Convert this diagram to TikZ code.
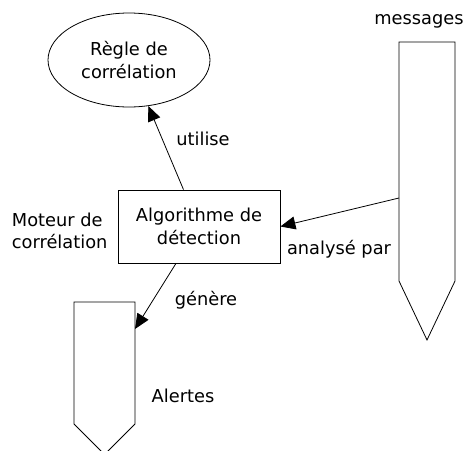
\documentclass[tikz,border=0pt]{standalone}
\usepackage{fontspec}
\setmainfont{DejaVu Sans}
\usetikzlibrary{arrows.meta,shapes.geometric,shapes.symbols}

\tikzset{
    flux/.style = {draw=black, line width=0.8pt, shape=signal, signal from=nowhere, signal to=south, inner sep=0pt},
    bloc/.style = {draw=black, line width=0.8pt, align=center, inner sep=0pt},
    lien/.style = {draw=black, line width=0.8pt, -{Triangle[length=15pt,width=13pt]}},
    etiq/.style = {anchor=base, inner sep=0pt},
}

\begin{document}
\begin{tikzpicture}[x=1pt,y=-1pt,font={\fontsize{17.8}{22.3}\selectfont}]
    \useasboundingbox (0,0) rectangle (465,450);

    % regle et moteur
    \node[bloc, ellipse, minimum width=162pt, minimum height=94pt] (regle) at (129,60) {Règle de\\corrélation};
    \node[bloc, minimum width=162pt, minimum height=73pt] (algo) at (199,226.5) {Algorithme de\\détection};
    \node[align=left, anchor=west, inner sep=0pt] (moteur) at (11.7,231) {Moteur de\\corrélation};

    % flux de messages et d'alertes
    \node[flux, minimum width=56pt, minimum height=239pt, signal pointer angle=50.8] (messages) at (427,161.5) {};
    \node[etiq] (msgtxt) at (419,24.3) {messages};
    \coordinate (msgout) at (399,198);

    \node[flux, minimum width=61pt, minimum height=122pt, signal pointer angle=90] (alertes) at (104.5,363) {};
    \node[etiq] (alertxt) at (183,402.7) {Alertes};
    \coordinate (alertin) at (135,329);

    % liens
    \draw[lien] (algo) -- (regle);
    \draw[lien] (msgout) -- (algo.east);
    \draw[lien] (algo) -- (alertin);

    \node[etiq] (utilise) at (203,145.7) {utilise};
    \node[etiq] (analyse) at (339,254) {analysé par};
    \node[etiq] (genere) at (206,305.7) {génère};
\end{tikzpicture}
\end{document}
